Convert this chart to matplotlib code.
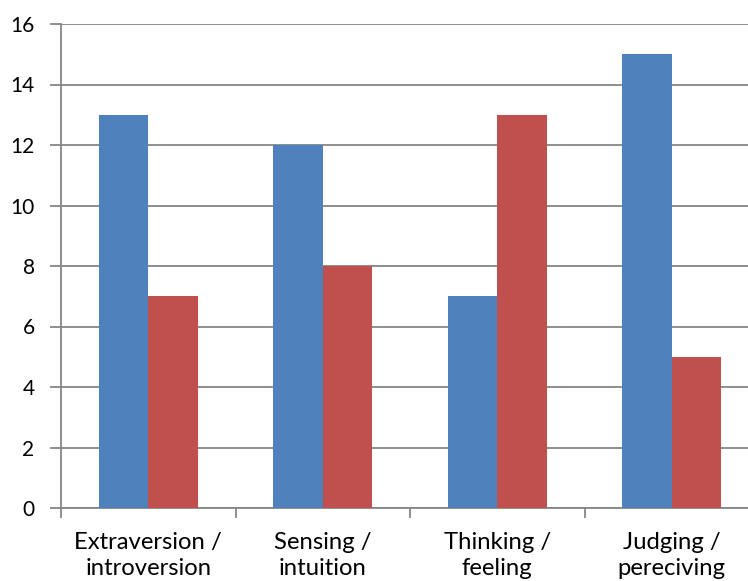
import matplotlib
matplotlib.use("Agg")
import matplotlib.pyplot as plt
import numpy as np

categories = ["Extraversion /\nintroversion", "Sensing /\nintuition", "Thinking /\nfeeling", "Judging /\npereciving"]
series_a = [13, 12, 7, 15]
series_b = [7, 8, 13, 5]
yticks = [0, 2, 4, 6, 8, 10, 12, 14, 16]

plt.rcParams['font.family'] = ['Lato', 'DejaVu Sans']

W, H = 748, 581
fig = plt.figure(figsize=(W/100, H/100), dpi=100)
left, right, top, bottom = 61, 759, 24, 508
ax = fig.add_axes([left/W, 1 - bottom/H, (right-left)/W, (bottom-top)/H])

x = np.arange(len(categories))
bw = 0.284
ax.bar(x - bw/2, series_a, bw, color="#4F81BD", zorder=3)
ax.bar(x + bw/2, series_b, bw, color="#C0504D", zorder=3)

ax.set_xlim(-0.5, len(categories) - 0.5)
ax.set_ylim(0, 16)
ax.set_yticks(yticks)
ax.set_yticklabels([str(v) for v in yticks])
ax.yaxis.grid(True, color="#868686", linewidth=1.3, zorder=0)
ax.set_axisbelow(True)

gray = "#868686"
for s in ["top", "right"]:
    ax.spines[s].set_visible(False)
ax.spines["left"].set_color(gray)
ax.spines["bottom"].set_color(gray)
ax.spines["left"].set_linewidth(1.3)
ax.spines["bottom"].set_linewidth(1.3)

ax.set_xticks(np.arange(-0.5, len(categories), 1.0), minor=False)
ax.set_xticklabels([])
ax.set_xticks(x, minor=True)
ax.set_xticklabels(categories, minor=True, fontsize=17.2, linespacing=1.3)
ax.tick_params(axis="x", which="major", length=7, width=1.3, color=gray, direction="out")
ax.tick_params(axis="x", which="minor", length=0, pad=17)
ax.tick_params(axis="y", length=8, width=1.3, color=gray, direction="out", labelsize=15, pad=11)

fig.savefig("out.png", dpi=100)
